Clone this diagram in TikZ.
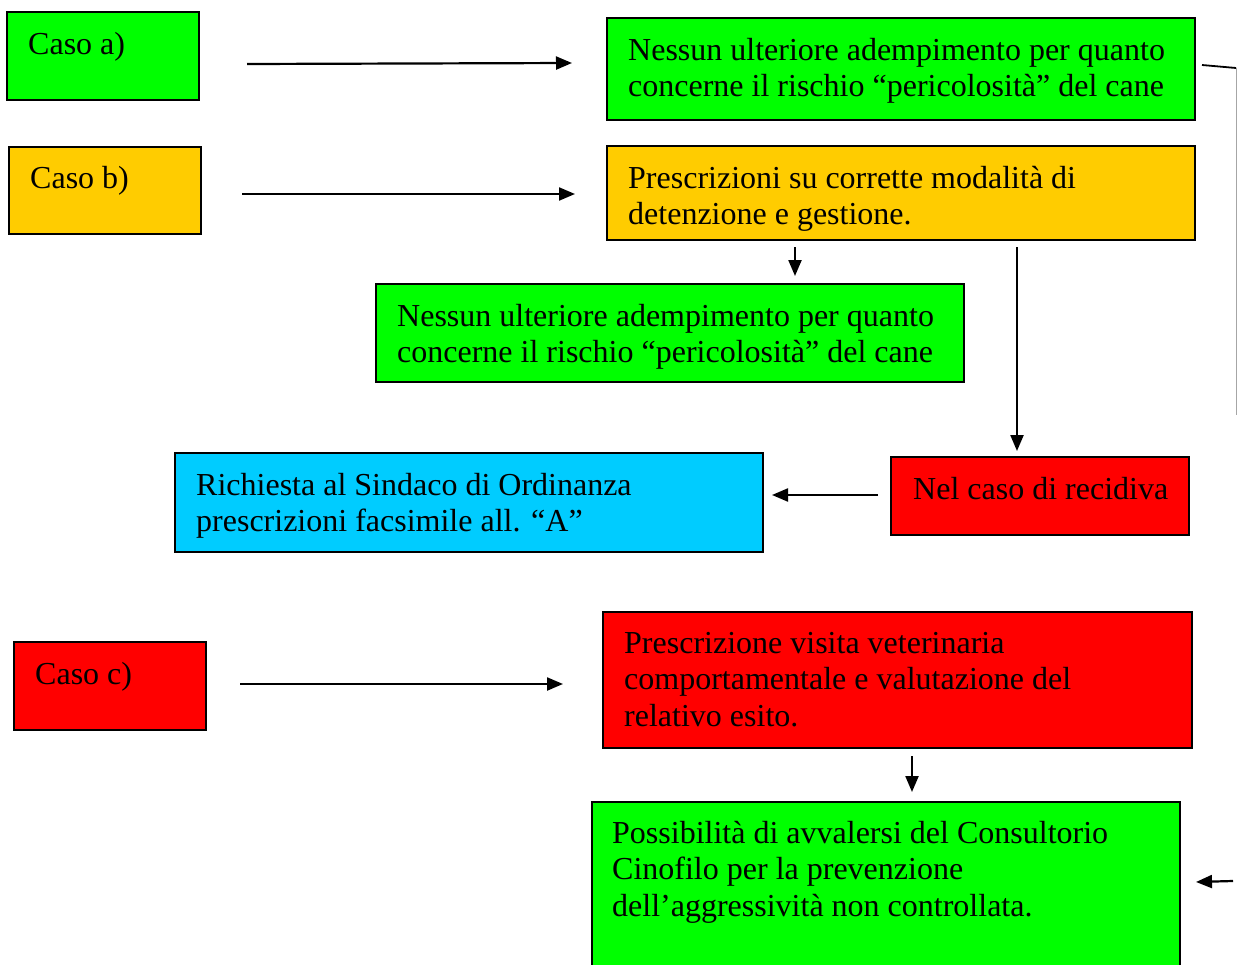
\documentclass[tikz,border=0pt]{standalone}
\usepackage{fontspec}
\setmainfont{Liberation Serif}
\usetikzlibrary{arrows.meta,calc}
\definecolor{cgreen}{RGB}{0,255,0}
\definecolor{corange}{RGB}{255,204,0}
\definecolor{cred}{RGB}{255,0,0}
\definecolor{cblue}{RGB}{0,204,255}
\tikzset{
  box/.style={draw=black, line width=1.8pt, anchor=north west, inner sep=0pt, outer sep=0pt},
  txt/.style={anchor=north west, inner sep=0pt, align=left, font=\fontsize{32}{36.5}\selectfont},
  arr/.style={line width=2.2pt, -{Triangle[length=16pt,width=13pt]}},
}
\begin{document}
\begin{tikzpicture}[x=1pt,y=-1pt]
\useasboundingbox (0,0) rectangle (1237,964);
% boxes
\node[box, fill=cgreen, minimum width=192pt, minimum height=88pt] (ca) at (7,12) {};
\node[box, fill=cgreen, minimum width=588pt, minimum height=102pt] (a1) at (607,18) {};
\node[box, fill=corange, minimum width=192pt, minimum height=87pt] (cb) at (9,147) {};
\node[box, fill=corange, minimum width=588pt, minimum height=94pt] (b1) at (607,146) {};
\node[box, fill=cgreen, minimum width=588pt, minimum height=98pt] (b2) at (376,284) {};
\node[box, fill=cblue, minimum width=588pt, minimum height=99pt] (bl) at (175,453) {};
\node[box, fill=cred, minimum width=298pt, minimum height=78pt] (rc) at (891,457) {};
\node[box, fill=cred, minimum width=192pt, minimum height=88pt] (cc) at (14,642) {};
\node[box, fill=cred, minimum width=589pt, minimum height=136pt] (c1) at (603,612) {};
\node[box, fill=cgreen, minimum width=588pt, minimum height=175pt] (c2) at (592,802) {};
% texts
\node[txt] (tca) at (28,32) {Caso a)};
\node[txt] (ta1) at (628,38) {Nessun ulteriore adempimento per quanto\\concerne il rischio “pericolosità” del cane};
\node[txt] (tcb) at (30,166) {Caso b)};
\node[txt] (tb1) at (628,166) {Prescrizioni su corrette modalità di\\detenzione e gestione.};
\node[txt] (tb2) at (397,304) {Nessun ulteriore adempimento per quanto\\concerne il rischio “pericolosità” del cane};
\node[txt] (tbl) at (196,473) {Richiesta al Sindaco di Ordinanza\\prescrizioni facsimile all. “A”};
\node[txt] (trc) at (913,477) {Nel caso di recidiva};
\node[txt] (tcc) at (35,662) {Caso c)};
\node[txt] (tc1) at (624,632) {Prescrizione visita veterinaria\\comportamentale e valutazione del\\relativo esito.};
\node[txt] (tc2) at (612,821) {Possibilità di avvalersi del Consultorio\\Cinofilo per la prevenzione\\dell’aggressività non controllata.};
% connector helper coordinates
\coordinate (pa0) at (247,64); \coordinate (pa1) at (572,63);
\coordinate (pb0) at (242,194); \coordinate (pb1) at (575,194);
\coordinate (pd0) at (795,247); \coordinate (pd1) at (795,276);
\coordinate (pr0) at (1017,247); \coordinate (pr1) at (1017,451);
\coordinate (pl0) at (878,495); \coordinate (pl1) at (772,495);
\coordinate (pc0) at (240,684); \coordinate (pc1) at (563,684);
\coordinate (pe0) at (912,756); \coordinate (pe1) at (912,792);
\coordinate (pf0) at (1233,881); \coordinate (pf1) at (1196,882);
\coordinate (pg0) at (1202,65); \coordinate (pg1) at (1236,68); \coordinate (pg2) at (1236,415);
\draw[arr] (pa0) -- (pa1);
\draw[arr] (pb0) -- (pb1);
\draw[arr] (pd0) -- (pd1);
\draw[arr] (pr0) -- (pr1);
\draw[arr] (pl0) -- (pl1);
\draw[arr] (pc0) -- (pc1);
\draw[arr] (pe0) -- (pe1);
\draw[arr] (pf0) -- (pf1);
\draw[line width=1.8pt] (pg0) -- (pg1);
\draw[line width=1pt, black!35] (pg1) -- (pg2);
\end{tikzpicture}
\end{document}
